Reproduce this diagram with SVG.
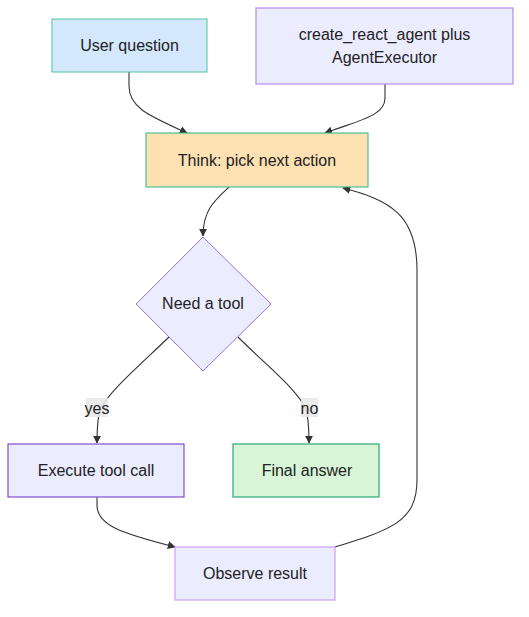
<svg xmlns="http://www.w3.org/2000/svg" width="529" height="617" viewBox="0 0 529 617">
<style>
.lbl{font-family:"Liberation Sans","DejaVu Sans",sans-serif;font-size:16px;fill:#222;text-anchor:middle;dominant-baseline:central}
.edge{fill:none;stroke:#333;stroke-width:1.1}
.elbl{fill:#e8e8e8;opacity:0.9}
</style>
<defs>
<marker id="arr" viewBox="0 0 10 10" refX="9" refY="5" markerWidth="8" markerHeight="8" orient="auto-start-reverse" markerUnits="userSpaceOnUse">
<path d="M0,0 L10,5 L0,10 z" fill="#333"/>
</marker>
</defs>
<rect width="529" height="617" fill="#fff"/>
<g id="connectors">
<path class="edge" d="M129,72 L129,86 C129,108 150,116 187,133" marker-end="url(#arr)"/>
<path class="edge" d="M385,84 L385,98 C385,116 360,120 325,133" marker-end="url(#arr)"/>
<path class="edge" d="M229,187 C215,200 203,210 203,236" marker-end="url(#arr)"/>
<path class="edge" d="M169,337 C140,365 108,392 100,410 C97,420 97,430 97,443" marker-end="url(#arr)"/>
<path class="edge" d="M238,337 C266,365 300,392 306,410 C309,420 309,430 309,443" marker-end="url(#arr)"/>
<path class="edge" d="M97,497 L97,505 C97,525 120,533 175,547" marker-end="url(#arr)"/>
<path class="edge" d="M335,547 C390,530 417,522 417,480 L417,270 C417,215 390,200 343,188" marker-end="url(#arr)"/>
<g id="lbl-yes"><rect class="elbl" x="86" y="398" width="22" height="19"/><text class="lbl" x="97" y="408">yes</text></g>
<g id="lbl-no"><rect class="elbl" x="301" y="398" width="17" height="19"/><text class="lbl" x="309.5" y="408">no</text></g>
</g>
<g id="user">
<rect x="52" y="19" width="155" height="53" fill="#d3e7fd" stroke="#4cc59e" stroke-width="1"/>
<text class="lbl" x="129.5" y="45.5">User question</text>
</g>
<g id="executor">
<rect x="256" y="8" width="257" height="76" fill="#ececff" stroke="#b48cf2" stroke-width="1.2"/>
<text class="lbl" x="384.5" y="34">create_react_agent plus</text>
<text class="lbl" x="384.5" y="57">AgentExecutor</text>
</g>
<g id="think">
<rect x="146" y="133" width="222" height="54" fill="#fde1b3" stroke="#2db57c" stroke-width="1"/>
<text class="lbl" x="257" y="160">Think: pick next action</text>
</g>
<g id="decision">
<path d="M203,237 L271,304 L203,371 L136,304 Z" fill="#ececff" stroke="#9a6ff0" stroke-width="1"/>
<text class="lbl" x="203" y="303">Need a tool</text>
</g>
<g id="execute">
<rect x="8" y="444" width="176" height="53" fill="#ececff" stroke="#7c50d0" stroke-width="1.2"/>
<text class="lbl" x="96" y="470.5">Execute tool call</text>
</g>
<g id="final">
<rect x="233" y="444" width="146" height="53" fill="#d8f5d7" stroke="#2aa878" stroke-width="1.2"/>
<text class="lbl" x="307" y="470.5">Final answer</text>
</g>
<g id="observe">
<rect x="175" y="547" width="160" height="53" fill="#ececff" stroke="#c7a2f6" stroke-width="1.2"/>
<text class="lbl" x="255" y="573.5">Observe result</text>
</g>
</svg>
